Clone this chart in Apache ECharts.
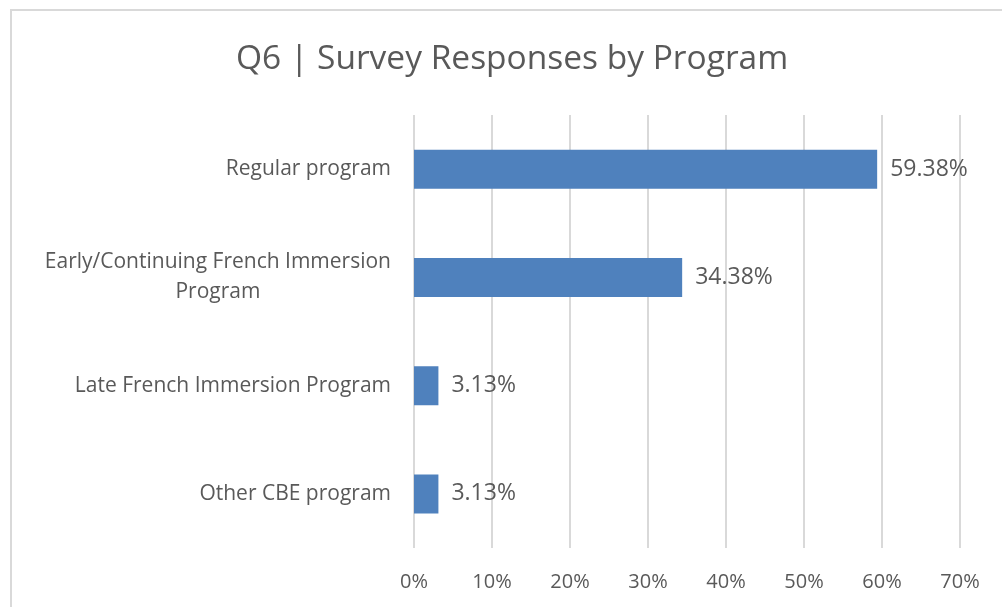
<!DOCTYPE html>
<html>
<head>
<meta charset="utf-8">
<style>
  html, body { margin: 0; padding: 0; background: #fff; }
  #chart { width: 1002px; height: 607px; }
</style>
<script src="https://cdn.jsdelivr.net/npm/echarts@6/dist/echarts.min.js"></script>
</head>
<body>
<div id="chart"></div>
<script>
// Q6 | Survey Responses by Program - horizontal bar chart

const categories = [
    'Regular program',
    'Early/Continuing French Immersion\nProgram',
    'Late French Immersion Program',
    'Other CBE program'
];
const shares = [59.38, 34.38, 3.13, 3.13];
const tickLabels = ['0%', '10%', '20%', '30%', '40%', '50%', '60%', '70%'];

const FONT = '"Open Sans", "Noto Sans", sans-serif';
const GREY = '#595959';

const chart = echarts.init(document.getElementById('chart'));

const option = {
    animation: false,
    backgroundColor: '#fff',
    textStyle: { fontFamily: FONT },
    title: {
        text: 'Q6 | Survey Responses by Program',
        left: 231,
        top: 37,
        textStyle: {
            fontFamily: FONT,
            fontSize: 33.5,
            fontWeight: 'normal',
            color: GREY
        }
    },
    graphic: [{
        type: 'rect',
        shape: { x: 11, y: 10, width: 1010, height: 620 },
        style: { fill: 'none', stroke: '#d9d9d9', lineWidth: 2 },
        silent: true
    }],
    grid: {
        left: 414,
        right: 42,
        top: 115,
        bottom: 59
    },
    xAxis: {
        type: 'value',
        min: 0,
        max: 70,
        interval: 10,
        axisLine: { show: false },
        axisTick: { show: false },
        splitLine: { lineStyle: { color: '#d9d9d9', width: 2 } },
        axisLabel: {
            margin: 24,
            fontSize: 20,
            color: GREY,
            fontFamily: FONT,
            formatter: (v) => tickLabels[Math.round(v / 10)]
        }
    },
    yAxis: {
        type: 'category',
        inverse: true,
        data: categories,
        axisLine: { show: false },
        axisTick: { show: false },
        axisLabel: {
            margin: 23,
            fontSize: 21,
            color: GREY,
            fontFamily: FONT,
            lineHeight: 30,
            formatter: (v) => v.split('\n').map(s => '{c|' + s + '}').join('\n'),
            rich: {
                c: { align: 'center', fontSize: 21, color: GREY, fontFamily: FONT, lineHeight: 30 }
            }
        }
    },
    series: [{
        type: 'bar',
        data: shares,
        barWidth: 39,
        itemStyle: { color: '#4f81bd' },
        label: {
            show: true,
            position: 'right',
            distance: 13,
            fontSize: 23,
            color: GREY,
            fontFamily: FONT,
            formatter: (p) => p.value.toFixed(2) + '%'
        }
    }]
};

chart.setOption(option);
</script>
</body>
</html>
